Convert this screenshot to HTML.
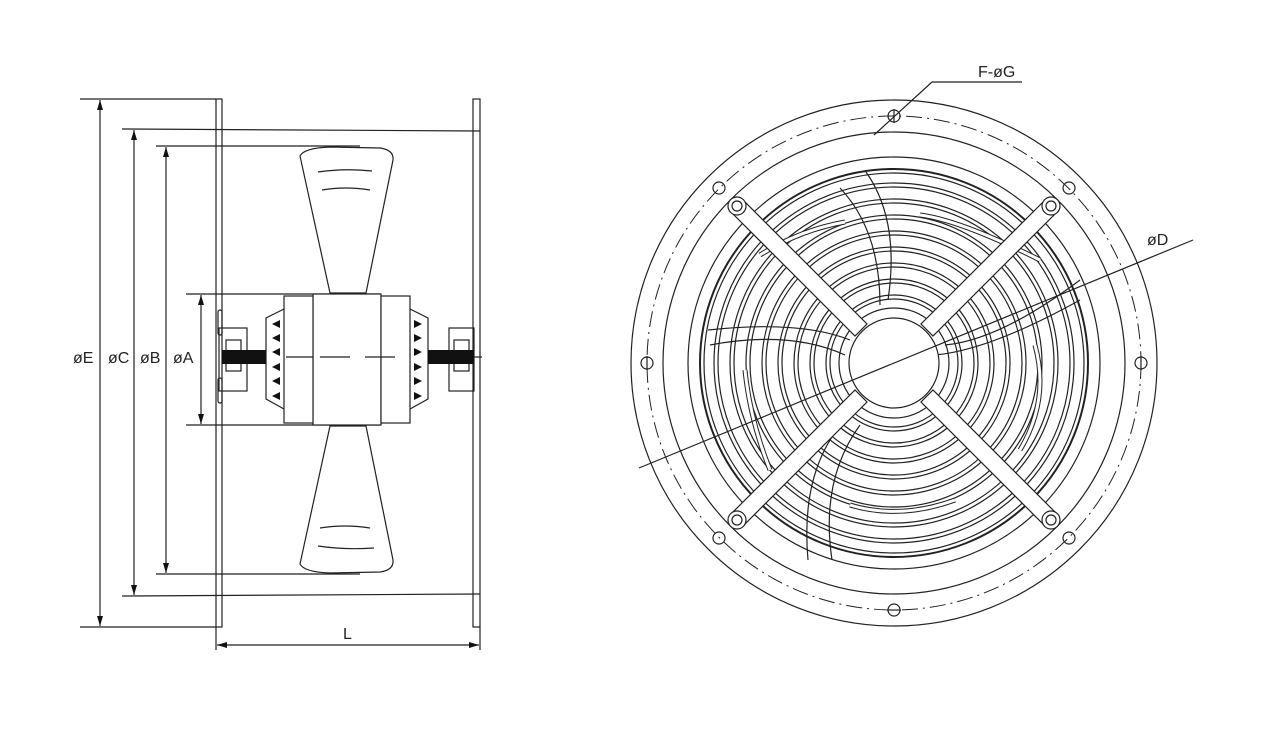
<!DOCTYPE html>
<html><head><style>body{margin:0;background:#fff}svg{display:block}text{font-family:"Liberation Sans",sans-serif;font-size:16px;fill:#222}</style></head><body>
<svg width="1277" height="735" viewBox="0 0 1277 735" xmlns="http://www.w3.org/2000/svg">
<defs>
<marker id="a" viewBox="0 0 10 10" refX="10" refY="5" markerWidth="10" markerHeight="10" orient="auto-start-reverse" markerUnits="userSpaceOnUse"><path d="M0,2 L10,5 L0,8z" fill="#111"/></marker>
</defs>
<g stroke="#222" stroke-width="1.2" fill="none">
<!-- left view plates -->
<rect x="216" y="99" width="6" height="528"/>
<rect x="473" y="99" width="7" height="528"/>
<!-- extension lines -->
<line x1="80" y1="99" x2="216" y2="99"/>
<line x1="80" y1="627" x2="216" y2="627"/>
<line x1="122" y1="129" x2="480" y2="131"/>
<line x1="122" y1="596" x2="480" y2="594"/>
<line x1="156" y1="146" x2="360" y2="146"/>
<line x1="156" y1="574" x2="360" y2="574"/>
<line x1="186" y1="294" x2="381" y2="294"/>
<line x1="186" y1="425" x2="381" y2="425"/>
<line x1="216" y1="627" x2="216" y2="650"/>
<line x1="480" y1="627" x2="480" y2="650"/>
<!-- dim lines -->
<line x1="100" y1="100" x2="100" y2="626" marker-start="url(#a)" marker-end="url(#a)"/>
<line x1="134" y1="130" x2="134" y2="595" marker-start="url(#a)" marker-end="url(#a)"/>
<line x1="166" y1="147" x2="166" y2="573" marker-start="url(#a)" marker-end="url(#a)"/>
<line x1="201" y1="295" x2="201" y2="424" marker-start="url(#a)" marker-end="url(#a)"/>
<line x1="217" y1="645" x2="479" y2="645" marker-start="url(#a)" marker-end="url(#a)"/>
<!-- blades -->
<path d="M300,156 Q304,148 330,147 L380,148 Q394,150 393,160 L366,293 L330,293 Z" fill="#fff"/>
<path d="M318,172 Q345,168 372,171 M322,190 Q346,186 370,190"/>
<path d="M300,564 Q304,572 330,573 L380,572 Q394,570 393,560 L366,426 L330,426 Z" fill="#fff"/>
<path d="M320,528 Q345,524 370,528 M318,546 Q345,550 374,548"/>
<!-- motor -->
<rect x="313" y="294" width="68" height="131" fill="#fff"/>
<rect x="284" y="296" width="29" height="127" fill="#fff"/>
<rect x="381" y="296" width="29" height="127" fill="#fff"/>
<path d="M284,309 L266,318 L266,399 L284,409"/>
<path d="M410,309 L428,318 L428,399 L410,409"/>
<rect x="219" y="328" width="28" height="63"/>
<rect x="226" y="340" width="15" height="31"/>
<rect x="449" y="328" width="25" height="63"/>
<rect x="454" y="340" width="15" height="31"/>
<rect x="218" y="310" width="4" height="25" rx="2"/>
<rect x="218" y="378" width="4" height="25" rx="2"/>
<line x1="286" y1="357" x2="313" y2="357"/>
<line x1="320" y1="357" x2="350" y2="357"/>
<line x1="365" y1="357" x2="395" y2="357"/>
<line x1="474" y1="357" x2="482" y2="357"/>
</g>
<g fill="#111">
<rect x="222" y="350" width="44" height="14"/>
<rect x="428" y="350" width="46" height="14"/>
<path d="M272,324 l8,-4 v8z M272,338 l8,-4 v8z M272,352 l8,-4 v8z M272,367 l8,-4 v8z M272,381 l8,-4 v8z M272,396 l8,-4 v8z"/>
<path d="M422,324 l-8,-4 v8z M422,338 l-8,-4 v8z M422,352 l-8,-4 v8z M422,367 l-8,-4 v8z M422,381 l-8,-4 v8z M422,396 l-8,-4 v8z"/>
</g>
<text x="73" y="363">øE</text><text x="108" y="363">øC</text><text x="140" y="363">øB</text><text x="173" y="363">øA</text>
<text x="343" y="639">L</text>
<!-- right view -->
<g stroke="#222" stroke-width="1.2" fill="none">
<circle cx="894" cy="363" r="263"/>
<circle cx="894" cy="363" r="247" stroke-dasharray="16,5,2,5" stroke-width="1"/>
<circle cx="894" cy="363" r="231"/>
<circle cx="894" cy="363" r="206"/>
<circle cx="894" cy="363" r="194" stroke-width="2"/>
<circle cx="894" cy="363" r="190"/>
<circle cx="894" cy="363" r="180"/><circle cx="894" cy="363" r="176"/>
<circle cx="894" cy="363" r="164"/><circle cx="894" cy="363" r="160"/>
<circle cx="894" cy="363" r="148"/><circle cx="894" cy="363" r="144"/>
<circle cx="894" cy="363" r="132"/><circle cx="894" cy="363" r="128"/>
<circle cx="894" cy="363" r="116"/><circle cx="894" cy="363" r="112"/>
<circle cx="894" cy="363" r="100"/><circle cx="894" cy="363" r="96"/>
<circle cx="894" cy="363" r="84"/><circle cx="894" cy="363" r="80"/>
<circle cx="894" cy="363" r="68"/><circle cx="894" cy="363" r="64"/>
<circle cx="894" cy="363" r="55"/>
<path d="M840,188 Q880,230 880,305 M866,172 Q900,220 888,300 M708,330 Q800,320 850,340 M710,345 Q790,330 845,355 M1080,280 Q1000,340 945,345 M1080,300 Q990,350 935,355 M845,420 Q800,470 808,560 M860,425 Q820,480 832,560"/>
<path d="M920,215 Q960,220 1040,260 M1035,345 Q1050,400 1020,450 M850,505 Q900,520 955,500 M745,370 Q750,420 770,470 M760,255 Q800,230 845,222" stroke-width="5" stroke="#222"/>
<path d="M920,215 Q960,220 1040,260 M1035,345 Q1050,400 1020,450 M850,505 Q900,520 955,500 M745,370 Q750,420 770,470 M760,255 Q800,230 845,222" stroke-width="3" stroke="#fff"/>
</g>
<g stroke="#222" stroke-width="1.2" fill="#fff">
<path d="M731,212 L855,336 L867,324 L743,200 Z"/>
<path d="M1045,200 L921,324 L933,336 L1057,212 Z"/>
<path d="M731,514 L855,390 L867,402 L743,526 Z"/>
<path d="M1057,514 L933,390 L921,402 L1045,526 Z"/>
<circle cx="737" cy="206" r="9"/><circle cx="737" cy="206" r="5"/>
<circle cx="1051" cy="206" r="9"/><circle cx="1051" cy="206" r="5"/>
<circle cx="737" cy="520" r="9"/><circle cx="737" cy="520" r="5"/>
<circle cx="1051" cy="520" r="9"/><circle cx="1051" cy="520" r="5"/>
<circle cx="894" cy="363" r="45"/>
</g>
<g stroke="#222" stroke-width="1.2" fill="none">
<line x1="639" y1="468" x2="1193" y2="240"/>
<circle cx="894" cy="116" r="6"/><line x1="894" y1="109" x2="894" y2="123"/>
<circle cx="894" cy="610" r="6"/><line x1="887" y1="610" x2="901" y2="610"/>
<circle cx="647" cy="363" r="6"/><line x1="647" y1="356" x2="647" y2="370"/>
<circle cx="1141" cy="363" r="6"/><line x1="1141" y1="356" x2="1141" y2="370"/>
<circle cx="719" cy="188" r="6"/><circle cx="1069" cy="188" r="6"/>
<circle cx="719" cy="538" r="6"/><circle cx="1069" cy="538" r="6"/>
<line x1="874" y1="135" x2="932" y2="82"/>
<line x1="932" y1="82" x2="1022" y2="82"/>
</g>
<text x="978" y="77">F-øG</text>
<text x="1147" y="245">øD</text>
</svg>
</body></html>
